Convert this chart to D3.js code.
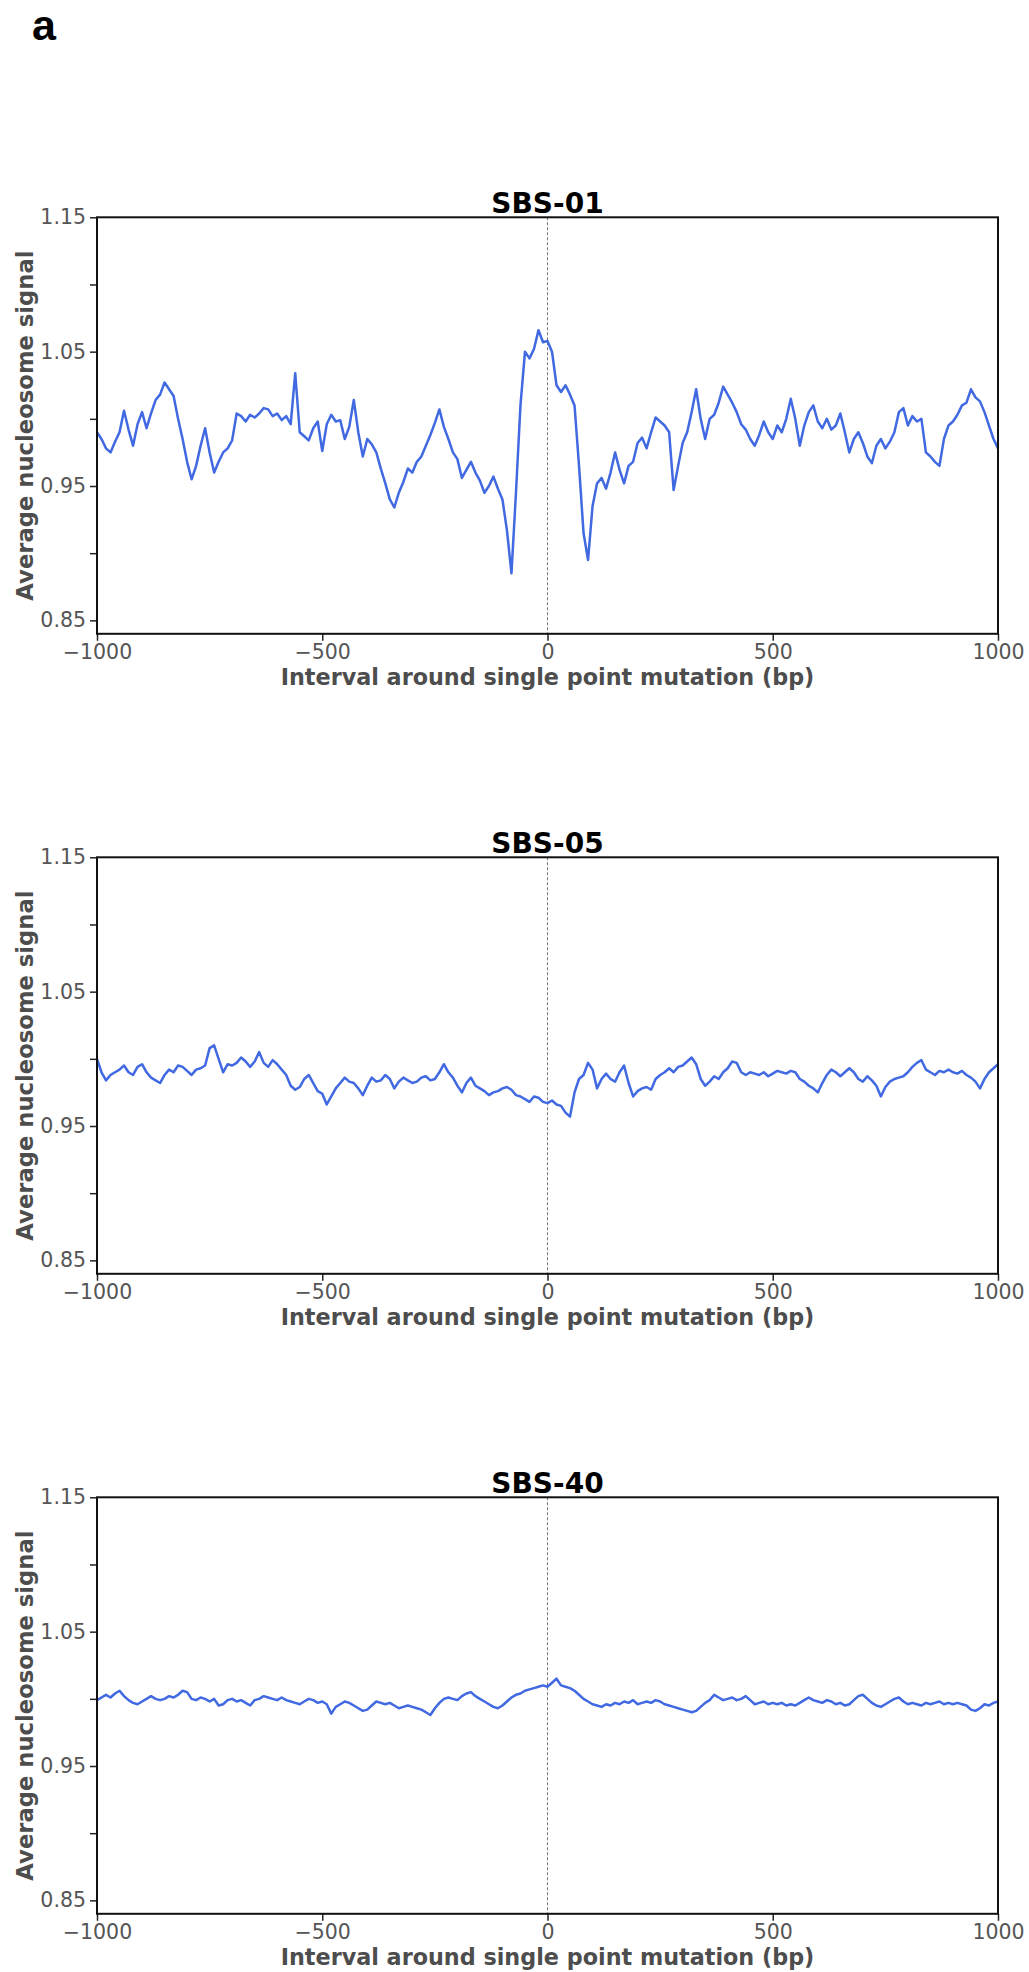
<!DOCTYPE html>
<html>
<head>
<meta charset="utf-8">
<script src="https://cdn.jsdelivr.net/npm/d3@7"></script>
<style>
  html, body { margin: 0; padding: 0; background: #fff; }
  svg { display: block; }
</style>
</head>
<body>
<script>
// Nucleosome signal profiles around single point mutations, sampled every 10 bp.
const positions = d3.range(-1000, 1001, 10);

const signatures = ["SBS-01", "SBS-05", "SBS-40"];

const sbs01 = [
  0.990, 0.985, 0.978, 0.975, 0.983, 0.990, 1.006, 0.992, 0.980, 0.996,
  1.005, 0.993, 1.004, 1.014, 1.018, 1.027, 1.022, 1.017, 1.000, 0.985,
  0.968, 0.955, 0.965, 0.980, 0.993, 0.975, 0.960, 0.968, 0.975, 0.978,
  0.984, 1.004, 1.002, 0.998, 1.003, 1.001, 1.004, 1.008, 1.007, 1.002,
  1.004, 0.999, 1.002, 0.996, 1.034, 0.990, 0.987, 0.984, 0.993, 0.998,
  0.976, 0.996, 1.003, 0.998, 0.999, 0.985, 0.994, 1.014, 0.990, 0.972,
  0.985, 0.981, 0.975, 0.963, 0.952, 0.940, 0.934, 0.945, 0.953, 0.963,
  0.960, 0.968, 0.972, 0.980, 0.988, 0.997, 1.007, 0.994, 0.985, 0.975,
  0.970, 0.956, 0.962, 0.968, 0.960, 0.954, 0.945, 0.950, 0.957, 0.948,
  0.940, 0.917, 0.885, 0.945, 1.010, 1.050, 1.045, 1.052, 1.066, 1.057,
  1.058,
  1.050, 1.025, 1.020, 1.025, 1.018, 1.010, 0.965, 0.915, 0.895, 0.935,
  0.952, 0.956, 0.948, 0.960, 0.975, 0.962, 0.952, 0.965, 0.968, 0.982,
  0.986, 0.978, 0.990, 1.001, 0.998, 0.995, 0.990, 0.947, 0.965, 0.982,
  0.990, 1.005, 1.022, 1.000, 0.985, 1.000, 1.003, 1.012, 1.024, 1.018,
  1.012, 1.005, 0.996, 0.992, 0.985, 0.980, 0.988, 0.998, 0.990, 0.985,
  0.995, 0.990, 1.000, 1.015, 1.000, 0.980, 0.995, 1.005, 1.010, 0.998,
  0.993, 1.000, 0.992, 0.995, 1.004, 0.990, 0.975, 0.985, 0.990, 0.982,
  0.972, 0.967, 0.980, 0.985, 0.978, 0.983, 0.990, 1.005, 1.008, 0.995,
  1.002, 0.998, 1.000, 0.975, 0.972, 0.968, 0.965, 0.985, 0.995, 0.998,
  1.003, 1.010, 1.012, 1.022, 1.016, 1.013, 1.005, 0.995, 0.985, 0.978
];

const sbs05 = [
  1.000, 0.990, 0.984, 0.988, 0.990, 0.992, 0.995, 0.990, 0.988, 0.994,
  0.996, 0.990, 0.986, 0.984, 0.982, 0.988, 0.992, 0.990, 0.995, 0.994,
  0.991, 0.988, 0.992, 0.993, 0.995, 1.008, 1.010, 1.000, 0.990, 0.996,
  0.995, 0.997, 1.001, 0.998, 0.994, 0.998, 1.005, 0.997, 0.994, 0.999,
  0.996, 0.992, 0.988, 0.980, 0.977, 0.979, 0.985, 0.988, 0.982, 0.976,
  0.974, 0.966, 0.972, 0.978, 0.982, 0.986, 0.983, 0.982, 0.978, 0.973,
  0.980, 0.986, 0.983, 0.984, 0.988, 0.985, 0.978, 0.983, 0.986, 0.984,
  0.982, 0.983, 0.986, 0.987, 0.984, 0.985, 0.990, 0.996, 0.990, 0.986,
  0.980, 0.975, 0.982, 0.986, 0.980, 0.978, 0.976, 0.973, 0.975, 0.976,
  0.978, 0.979, 0.977, 0.973, 0.972, 0.970, 0.968, 0.972, 0.971, 0.968,
  0.967,
  0.969, 0.966, 0.965, 0.960, 0.957, 0.975, 0.985, 0.988, 0.997, 0.992,
  0.978, 0.985, 0.989, 0.985, 0.983, 0.990, 0.995, 0.982, 0.972, 0.976,
  0.978, 0.979, 0.977, 0.985, 0.988, 0.990, 0.993, 0.990, 0.994, 0.995,
  0.998, 1.001, 0.996, 0.985, 0.980, 0.983, 0.987, 0.985, 0.990, 0.993,
  0.998, 0.997, 0.990, 0.988, 0.990, 0.989, 0.988, 0.990, 0.987, 0.989,
  0.991, 0.990, 0.989, 0.991, 0.990, 0.985, 0.983, 0.980, 0.978, 0.975,
  0.982, 0.988, 0.992, 0.990, 0.987, 0.990, 0.993, 0.990, 0.985, 0.983,
  0.987, 0.984, 0.980, 0.972, 0.979, 0.983, 0.985, 0.986, 0.987, 0.990,
  0.994, 0.997, 0.999, 0.992, 0.990, 0.988, 0.991, 0.990, 0.992, 0.990,
  0.989, 0.991, 0.988, 0.986, 0.983, 0.978, 0.985, 0.990, 0.993, 0.996
];

const sbs40 = [
  0.999, 1.001, 1.003, 1.001, 1.004, 1.006, 1.002, 0.999, 0.997, 0.996,
  0.998, 1.000, 1.002, 1.000, 0.999, 1.000, 1.002, 1.001, 1.003, 1.006,
  1.005, 1.000, 0.999, 1.001, 1.000, 0.998, 1.000, 0.995, 0.996, 0.999,
  1.000, 0.998, 0.999, 0.997, 0.995, 0.999, 1.000, 1.002, 1.001, 1.000,
  0.999, 1.001, 0.999, 0.998, 0.997, 0.996, 0.998, 1.000, 0.999, 0.997,
  0.998, 0.996, 0.989, 0.994, 0.996, 0.998, 0.997, 0.995, 0.993, 0.991,
  0.992, 0.995, 0.998, 0.997, 0.996, 0.997, 0.995, 0.993, 0.994, 0.995,
  0.994, 0.993, 0.992, 0.990, 0.988, 0.993, 0.997, 1.000, 1.001, 1.000,
  0.999, 1.002, 1.004, 1.005, 1.002, 1.000, 0.998, 0.996, 0.994, 0.993,
  0.995, 0.998, 1.001, 1.003, 1.004, 1.006, 1.007, 1.008, 1.009, 1.010,
  1.009,
  1.012, 1.015, 1.010, 1.009, 1.008, 1.006, 1.003, 1.000, 0.998, 0.996,
  0.995, 0.994, 0.996, 0.995, 0.997, 0.996, 0.998, 0.997, 0.999, 0.996,
  0.997, 0.998, 0.997, 0.999, 0.998, 0.996, 0.995, 0.994, 0.993, 0.992,
  0.991, 0.990, 0.991, 0.994, 0.997, 0.999, 1.003, 1.001, 0.999, 1.000,
  1.001, 0.999, 1.000, 1.002, 0.999, 0.996, 0.997, 0.998, 0.996, 0.997,
  0.996, 0.997, 0.995, 0.996, 0.995, 0.997, 0.999, 1.001, 0.999, 0.998,
  0.997, 0.999, 0.998, 0.996, 0.997, 0.995, 0.996, 0.999, 1.002, 1.003,
  1.000, 0.997, 0.995, 0.994, 0.996, 0.998, 1.000, 1.001, 0.998, 0.996,
  0.997, 0.996, 0.995, 0.997, 0.996, 0.997, 0.998, 0.996, 0.997, 0.996,
  0.997, 0.996, 0.995, 0.992, 0.991, 0.993, 0.996, 0.995, 0.997, 0.998
];

const seriesValues = [sbs01, sbs05, sbs40];

const xTicks = [-1000, -500, 0, 500, 1000];
const yTicks = [0.85, 0.90, 0.95, 1.00, 1.05, 1.10, 1.15];
const yLabelled = [0.85, 0.95, 1.05, 1.15];
const yDomain = [0.84, 1.15];

const xLabel = "Interval around single point mutation (bp)";
const yLabel = "Average nucleosome signal";
const panelLetter = "a";

// Layout
const W = 1029, H = 1972;
const left = 97, right = 998;
const panelTops = [217.3, 857.3, 1497.3];
const panelH = 416.5;
const lineColor = "#4169E1";
const tickColor = "#555";
const labelColor = "#4d4d4d";

const svg = d3.select("body").append("svg")
  .attr("width", W).attr("height", H)
  .attr("viewBox", `0 0 ${W} ${H}`);

svg.append("text")
  .attr("x", 32).attr("y", 39.5)
  .attr("font-family", "Liberation Sans, Arial, sans-serif")
  .attr("font-weight", "bold")
  .attr("font-size", 43)
  .attr("fill", "#000")
  .text(panelLetter);

const x = d3.scaleLinear().domain([-1000, 1000]).range([left, right]);

signatures.forEach((name, i) => {
  const top = panelTops[i];
  const bottom = top + panelH;
  const y = d3.scaleLinear().domain(yDomain).range([bottom, top]);
  const values = seriesValues[i];
  const data = positions.map((p, k) => ({ p, v: values[k] })).filter(d => d.v !== undefined);

  const g = svg.append("g");

  // Dashed marker at the mutation position
  g.append("line")
    .attr("x1", x(0)).attr("x2", x(0))
    .attr("y1", top).attr("y2", bottom)
    .attr("stroke", "#777")
    .attr("stroke-width", 1)
    .attr("stroke-dasharray", "3,2");

  // Signal line
  g.append("path")
    .datum(data)
    .attr("fill", "none")
    .attr("stroke", lineColor)
    .attr("stroke-width", 2.5)
    .attr("stroke-linejoin", "round")
    .attr("d", d3.line().x(d => x(d.p)).y(d => y(d.v)));

  // Y axis
  const yAxis = g.append("g")
    .attr("transform", `translate(${left},0)`)
    .call(d3.axisLeft(y)
      .tickValues(yTicks)
      .tickSize(7)
      .tickPadding(4)
      .tickSizeOuter(0)
      .tickFormat(v => yLabelled.some(t => Math.abs(t - v) < 1e-9) ? d3.format(".2f")(v) : ""));
  yAxis.select(".domain").remove();
  yAxis.selectAll(".tick line").attr("stroke", "#222").attr("stroke-width", 1.5);
  yAxis.selectAll(".tick text")
    .attr("font-family", "DejaVu Sans, sans-serif")
    .attr("font-size", 20.5)
    .attr("fill", tickColor);

  // X axis
  const xAxis = g.append("g")
    .attr("transform", `translate(0,${bottom})`)
    .call(d3.axisBottom(x)
      .tickValues(xTicks)
      .tickSize(7)
      .tickPadding(4)
      .tickSizeOuter(0)
      .tickFormat(d3.format("d")));
  xAxis.select(".domain").remove();
  xAxis.selectAll(".tick line").attr("stroke", "#222").attr("stroke-width", 1.5);
  xAxis.selectAll(".tick text")
    .attr("font-family", "DejaVu Sans, sans-serif")
    .attr("font-size", 20.5)
    .attr("fill", tickColor)
    .attr("dy", null)
    .attr("y", 25.5);

  // Frame
  g.append("rect")
    .attr("x", left).attr("y", top)
    .attr("width", right - left).attr("height", panelH)
    .attr("fill", "none")
    .attr("stroke", "#111")
    .attr("stroke-width", 2);

  // Title
  g.append("text")
    .attr("x", (left + right) / 2).attr("y", top - 4)
    .attr("text-anchor", "middle")
    .attr("font-family", "DejaVu Sans, sans-serif")
    .attr("font-weight", "bold")
    .attr("font-size", 28)
    .attr("fill", "#000")
    .text(name);

  // Axis titles
  g.append("text")
    .attr("x", (left + right) / 2).attr("y", bottom + 51.2)
    .attr("text-anchor", "middle")
    .attr("font-family", "DejaVu Sans, sans-serif")
    .attr("font-weight", "bold")
    .attr("font-size", 22.3)
    .attr("fill", labelColor)
    .text(xLabel);

  g.append("text")
    .attr("transform", `translate(33,${(top + bottom) / 2}) rotate(-90)`)
    .attr("text-anchor", "middle")
    .attr("font-family", "DejaVu Sans, sans-serif")
    .attr("font-weight", "bold")
    .attr("font-size", 22.7)
    .attr("fill", labelColor)
    .text(yLabel);
});
</script>
</body>
</html>
